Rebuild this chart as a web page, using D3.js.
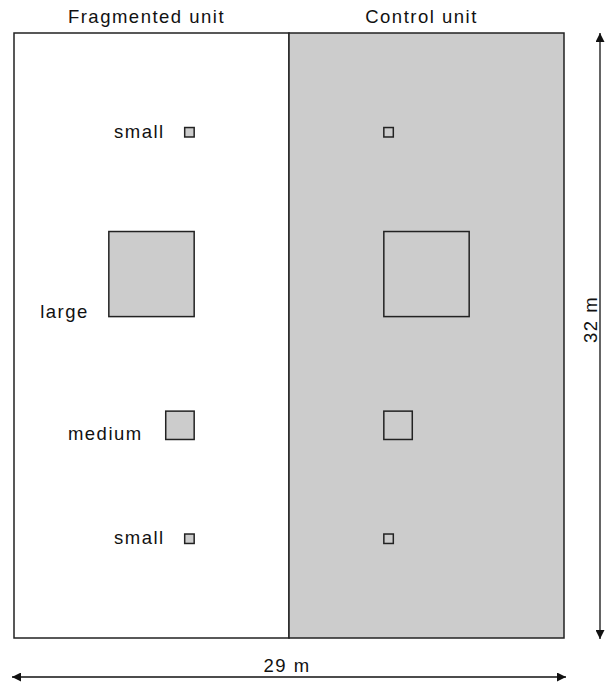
<!DOCTYPE html>
<html>
<head>
<meta charset="utf-8">
<script src="https://cdn.jsdelivr.net/npm/d3@7"></script>
<style>
  html, body { margin: 0; padding: 0; background: #fff; }
  svg { display: block; }
  text { font-family: "Liberation Sans", Arial, sans-serif; font-size: 18.5px; letter-spacing: 1.5px; fill: #111; }
</style>
</head>
<body>
<svg id="chart" width="611" height="684"></svg>
<script>
// ---- data (metres) ----
const unitNames = ["Fragmented unit", "Control unit"];
const siteWidth = 29;           // m
const siteHeight = 32;          // m
const dimLabels = ["29 m", "32 m"];
const plotLabels = ["small", "large", "medium", "small"];
const plotSide = [0.5, 4.5, 1.5, 0.5];     // square side, m
const plotTop = [5, 10.5, 20, 26.5];       // distance from top edge, m
const plotGap = 5;                          // distance of plots from the unit boundary, m

// ---- layout ----
const svg = d3.select("#chart");
const x = d3.scaleLinear().domain([0, siteWidth]).range([14, 564]);
const y = d3.scaleLinear().domain([0, siteHeight]).range([33, 638]);
const mid = siteWidth / 2;
const stroke = "#222";
const grey = "#cccccc";

// units
svg.append("rect").attr("x", x(0)).attr("y", y(0))
  .attr("width", x(mid) - x(0)).attr("height", y(siteHeight) - y(0))
  .attr("fill", "#fff").attr("stroke", stroke).attr("stroke-width", 1.5);
svg.append("rect").attr("x", x(mid)).attr("y", y(0))
  .attr("width", x(siteWidth) - x(mid)).attr("height", y(siteHeight) - y(0))
  .attr("fill", grey).attr("stroke", stroke).attr("stroke-width", 1.5);

// titles
svg.selectAll("text.title").data(unitNames).enter().append("text")
  .attr("class", "title")
  .attr("x", (d, i) => (i === 0 ? (x(0) + x(mid)) / 2 : (x(mid) + x(siteWidth)) / 2) - 5)
  .attr("y", 23)
  .attr("text-anchor", "middle")
  .text(d => d);

// plots
const plots = plotLabels.map((l, i) => ({ label: l, side: plotSide[i], top: plotTop[i] }));
// fragmented unit: right edges at mid - gap
svg.selectAll("rect.frag").data(plots).enter().append("rect")
  .attr("class", "frag")
  .attr("x", d => x(mid - plotGap - d.side))
  .attr("y", d => y(d.top))
  .attr("width", d => x(d.side) - x(0))
  .attr("height", d => y(d.side) - y(0))
  .attr("fill", grey).attr("stroke", stroke).attr("stroke-width", 1.5);
// control unit: left edges at mid + gap
svg.selectAll("rect.ctrl").data(plots).enter().append("rect")
  .attr("class", "ctrl")
  .attr("x", d => x(mid + plotGap))
  .attr("y", d => y(d.top))
  .attr("width", d => x(d.side) - x(0))
  .attr("height", d => y(d.side) - y(0))
  .attr("fill", grey).attr("stroke", stroke).attr("stroke-width", 1.5);

// plot labels
svg.selectAll("text.plabel").data(plots).enter().append("text")
  .attr("class", "plabel")
  .attr("x", d => x(mid - plotGap - d.side) - (d.label === "medium" ? 23 : 20))
  .attr("y", d => y(d.top + d.side) + 1)
  .attr("text-anchor", "end")
  .text(d => d.label);

// arrow markers
const defs = svg.append("defs");
defs.append("marker").attr("id", "ah").attr("viewBox", "0 0 10 10")
  .attr("refX", 10).attr("refY", 5).attr("markerWidth", 10).attr("markerHeight", 9)
  .attr("markerUnits", "userSpaceOnUse").attr("orient", "auto-start-reverse")
  .append("path").attr("d", "M0,0 L10,5 L0,10 Z").attr("fill", "#111");

// horizontal dimension
svg.append("line").attr("x1", x(0) - 2).attr("x2", x(siteWidth) + 2)
  .attr("y1", 677).attr("y2", 677)
  .attr("stroke", "#111").attr("stroke-width", 1.3)
  .attr("marker-start", "url(#ah)").attr("marker-end", "url(#ah)");
svg.append("text").attr("x", x(mid) - 2).attr("y", 672)
  .attr("text-anchor", "middle").text(dimLabels[0]);

// vertical dimension
svg.append("line").attr("x1", 600).attr("x2", 600)
  .attr("y1", y(0)).attr("y2", y(siteHeight) + 1)
  .attr("stroke", "#111").attr("stroke-width", 1.3)
  .attr("marker-start", "url(#ah)").attr("marker-end", "url(#ah)");
svg.append("text")
  .attr("transform", `translate(597,${(y(0) + y(siteHeight)) / 2 - 16}) rotate(-90)`)
  .attr("text-anchor", "middle").text(dimLabels[1]);
</script>
</body>
</html>
